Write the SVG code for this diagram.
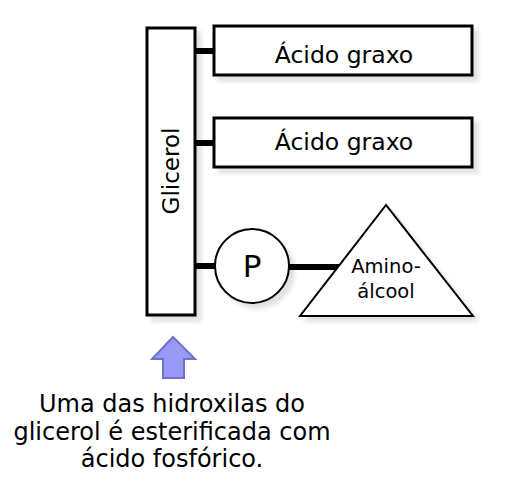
<svg xmlns="http://www.w3.org/2000/svg" width="515" height="485" viewBox="0 0 515 485">
<defs>
<filter id="sh" x="-20%" y="-20%" width="150%" height="150%">
<feGaussianBlur in="SourceAlpha" stdDeviation="2"/>
<feOffset dx="5" dy="5" result="b"/>
<feComponentTransfer><feFuncA type="linear" slope="0.12"/></feComponentTransfer>
<feMerge><feMergeNode/><feMergeNode in="SourceGraphic"/></feMerge>
</filter>
</defs>
<style>
.box{fill:#fff;stroke:#000;stroke-width:3;filter:url(#sh)}
.thin{fill:#fff;stroke:#000;stroke-width:2;filter:url(#sh)}
.t{font-family:"DejaVu Sans","Verdana",sans-serif;fill:#000;text-anchor:middle}
.link{stroke:#000;stroke-width:6;fill:none}
</style>
<rect width="515" height="485" fill="#fff"/>
<g id="connectors">
<line class="link" x1="195" y1="51" x2="215" y2="51"/>
<line class="link" x1="195" y1="143" x2="215" y2="143"/>
<line class="link" x1="195" y1="266" x2="216" y2="266"/>
<line class="link" x1="288" y1="267" x2="342" y2="267"/>
</g>
<g id="glicerol">
<rect class="box" x="147" y="28" width="48" height="287"/>
<text class="t" font-size="23" transform="translate(179,171) rotate(-90)">Glicerol</text>
</g>
<g id="acido1">
<rect class="box" x="214" y="26" width="258" height="49"/>
<text class="t" font-size="23.5" x="344" y="63">Ácido graxo</text>
</g>
<g id="acido2">
<rect class="box" x="214" y="118" width="258" height="49"/>
<text class="t" font-size="23.5" x="344" y="150">Ácido graxo</text>
</g>
<g id="fosfato">
<circle class="thin" cx="252" cy="266" r="37"/>
<text class="t" font-size="31" x="252" y="277">P</text>
</g>
<g id="aminoalcool">
<polygon class="thin" points="386,205 300,316 473,316"/>
<text class="t" font-size="19.5" x="386" y="273">Amino-</text>
<text class="t" font-size="19.5" x="386" y="298">álcool</text>
</g>
<g id="seta">
<polygon points="173,337 152,359 163,359 163,378 184,378 184,359 195,359" fill="#9999f7" stroke="#7070c4" stroke-width="2" stroke-linejoin="miter"/>
</g>
<g id="nota">
<text class="t" font-size="24" x="172" y="412">Uma das hidroxilas do</text>
<text class="t" font-size="24" x="172" y="440">glicerol é esterificada com</text>
<text class="t" font-size="24" x="172" y="467">ácido fosfórico.</text>
</g>
</svg>
